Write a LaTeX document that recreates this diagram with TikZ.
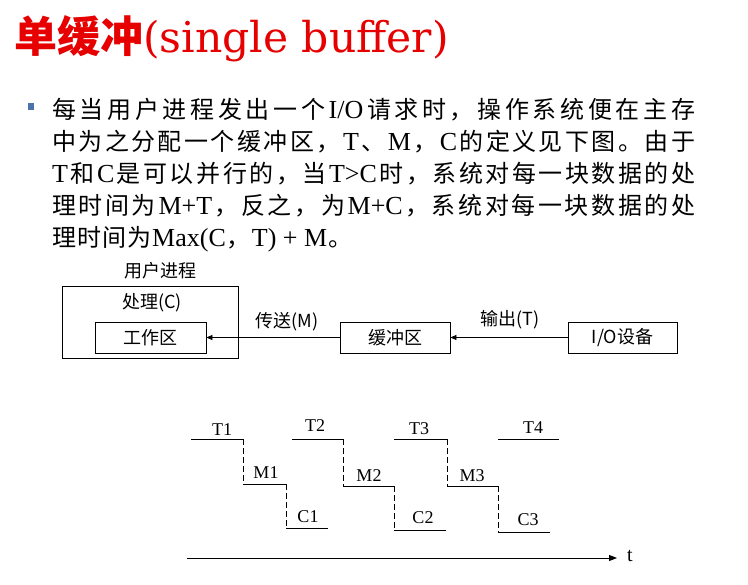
\documentclass[tikz,border=0pt]{standalone}
\usepackage{fontspec}
\setmainfont{Liberation Serif}
\newfontfamily\cjk{Noto Sans CJK SC}
\newfontfamily\lat{Liberation Serif}
\newfontfamily\titlelat{DejaVu Serif}
\usetikzlibrary{arrows.meta}
\definecolor{titlered}{RGB}{230,0,0}
\definecolor{bulletblue}{RGB}{74,116,168}
\newcommand\setfs[1]{\fontsize{#1}{#1}\selectfont}
\newcommand\bl[1]{{\lat\setfs{26}#1}}
% spread the items of a line evenly over a given width
\ExplSyntaxOn
\NewDocumentCommand\spreadline{m m}{\makebox[#1][s]{\tl_map_inline:nn{#2}{{##1}\hfil}\unskip}}
\ExplSyntaxOff
\begin{document}
\begin{tikzpicture}[x=1pt,y=-1pt,
  txt/.style={inner sep=0pt},
  bodyline/.style={inner sep=0pt, anchor=base west, font=\cjk\setfs{24}},
  dlabel/.style={inner sep=0pt, font=\cjk\setfs{18}},
  unitbox/.style={draw, line width=0.8pt, inner sep=0pt, minimum width=110pt,
    minimum height=31pt, font=\cjk\setfs{18}},
  flow/.style={line width=0.8pt, -{Triangle[length=6pt,width=5pt]}},
  solidseg/.style={line width=0.9pt},
  dashseg/.style={line width=0.9pt, dash pattern=on 6pt off 3pt},
  tlabel/.style={inner sep=0pt, font=\lat\setfs{18}}]
\useasboundingbox[fill=white] (0,0) rectangle (748,585);

% heading
\node[txt, anchor=base west, text=titlered] (title) at (14,53)
  {{\cjk\bfseries\setfs{43}单缓冲}{\titlelat\setfs{42.5}(single buffer)}};

% bullet paragraph
\fill[bulletblue] (28,103) rectangle (34,110);
\node[bodyline] (l1) at (52,119) {\spreadline{643pt}{每当用户进程发出一个{\bl{I/O}}请求时，操作系统便在主存}};
\node[bodyline] (l2) at (52,151) {\spreadline{643pt}{中为之分配一个缓冲区，{\bl{T}}、{\bl{M}}，{\bl{C}}的定义见下图。由于}};
\node[bodyline] (l3) at (52,183) {\spreadline{643pt}{{\bl{T}}和{\bl{C}}是可以并行的，当{\bl{T>C}}时，系统对每一块数据的处}};
\node[bodyline] (l4) at (52,215) {\spreadline{643pt}{理时间为{\bl{M+T}}，反之，为{\bl{M+C}}，系统对每一块数据的处}};
\node[bodyline] (l5) at (52,247) {\spreadline{300pt}{理时间为{\bl{Max(C}}，{\bl{T) + M}}。}};

% block diagram
\node[draw, line width=0.8pt, minimum width=176pt, minimum height=72pt, inner sep=0pt] (user) at (150,322) {};
\node[dlabel] (userlbl) at (160,271) {用户进程};
\node[dlabel] (proc) at (152,303) {处理(C)};
\node[unitbox, minimum width=111pt] (work) at (150.5,337.5) {工作区};
\node[unitbox] (buf) at (395,337.5) {缓冲区};
\node[unitbox, minimum width=109pt] (io) at (622.5,337.5) {I/O设备};
\draw[flow] (buf.west) -- (work.east);
\draw[flow] (io.west) -- (buf.east);
\node[dlabel] (mlbl) at (287,322) {传送(M)};
\node[dlabel] (tlbl) at (510,320) {输出(T)};

% timing of the single buffer
\draw[solidseg] (191,439) -- (243,439);
\draw[dashseg]  (243,439) -- (243,484);
\draw[solidseg] (243,484) -- (286,484);
\draw[dashseg]  (286,484) -- (286,528);
\draw[solidseg] (286,528) -- (328,528);

\draw[solidseg] (292,439) -- (343,439);
\draw[dashseg]  (343,439) -- (343,486);
\draw[solidseg] (343,486) -- (394,486);
\draw[dashseg]  (394,486) -- (394,530);
\draw[solidseg] (394,530) -- (446,530);

\draw[solidseg] (394,439) -- (447,439);
\draw[dashseg]  (447,439) -- (447,486);
\draw[solidseg] (447,486) -- (498,486);
\draw[dashseg]  (498,486) -- (498,532);
\draw[solidseg] (498,532) -- (550,532);

\draw[solidseg] (498,439) -- (559,439);

\coordinate (t0) at (187,558);
\coordinate (t1) at (617,558);
\draw[line width=0.9pt, -{Triangle[length=8pt,width=6pt]}] (t0) -- (t1);
\node[tlabel, font=\lat\setfs{20}] (tt) at (630,556) {t};

\node[tlabel] (T1) at (222,430) {T1};
\node[tlabel] (T2) at (315,426) {T2};
\node[tlabel] (T3) at (419,429) {T3};
\node[tlabel] (T4) at (533,428) {T4};
\node[tlabel] (M1) at (266,473) {M1};
\node[tlabel] (M2) at (369,476) {M2};
\node[tlabel] (M3) at (472,476) {M3};
\node[tlabel] (C1) at (308,517) {C1};
\node[tlabel] (C2) at (423,518) {C2};
\node[tlabel] (C3) at (528,520) {C3};
\end{tikzpicture}
\end{document}
